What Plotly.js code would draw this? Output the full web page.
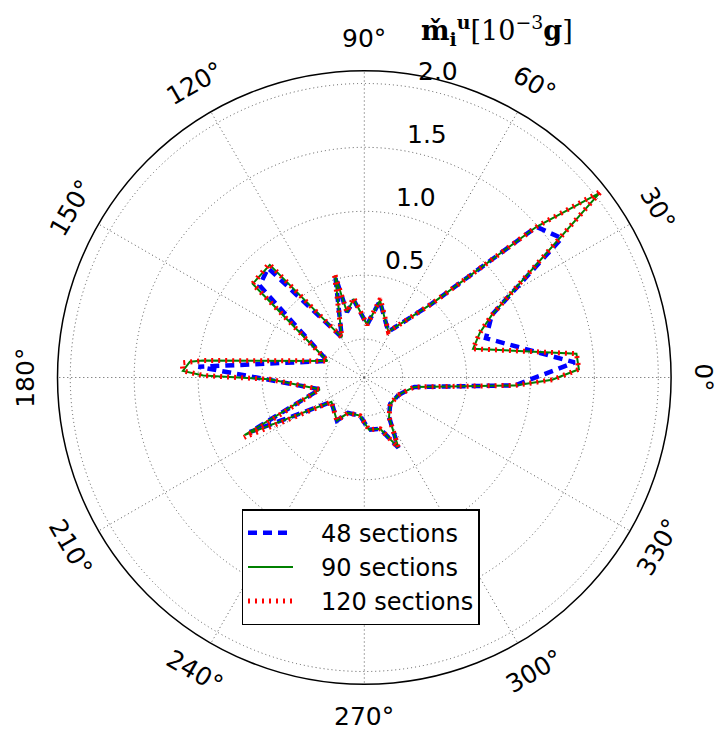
<!DOCTYPE html>
<html><head><meta charset="utf-8">
<script src="https://cdn.plot.ly/plotly-3.0.1.min.js"></script>
<style>html,body{margin:0;padding:0;background:#fff;} #chart{width:717px;height:731px;}</style>
</head><body><div id="chart"></div>
<script>
// ---- data (theta in degrees, r in 10^-3 g) ----
const seriesNames = ['48 sections', '90 sections', '120 sections'];

const theta48 = [333.0, 346.1, 349.3, 357.0, 4.1, 17.9, 26.1, 35.2, 41.2, 47.6, 62.3, 78.5, 87.0, 97.7, 104.8, 106.0, 119.3, 131.3, 138.7, 155.8, 176.3, 194.9, 205.5, 216.6, 237.6, 245.3, 263.6, 275.1, 287.1, 295.9, 302.0, 314.3];
const r48     = [0.00, 0.07, 0.10, 0.88, 1.35, 0.70, 0.81, 1.59, 1.49, 0.48, 0.105, 0.31, 0.113, 0.31, 0.23, 0.52, 0.06, 0.84, 0.79, 0.016, 1.00, 0.06, 0.69, 0.02, 0.10, 0.005, 0.0, 0.11, 0.12, 0.31, 0.065, -0.01];

const theta90 = [333.0, 346.1, 349.3, 357.0, 359.3, 2.2, 6.4, 14.8, 21.2, 26.1, 38.1, 41.2, 47.6, 62.3, 78.5, 87.0, 97.7, 104.8, 106.0, 119.3, 130.0, 140.0, 155.8, 174.0, 174.8, 177.9, 179.3, 181.1, 194.9, 205.7, 216.6, 237.6, 245.3, 263.6, 275.1, 287.1, 295.9, 302.0, 314.3];
const r90     = [0.00, 0.07, 0.10, 0.88, 1.17, 1.38, 1.37, 0.58, 0.67, 0.81, 2.04, 1.49, 0.48, 0.105, 0.315, 0.113, 0.32, 0.23, 0.53, 0.06, 0.85, 0.84, 0.016, 0.97, 1.07, 1.12, 0.96, 0.44, 0.06, 0.74, 0.02, 0.10, 0.005, 0.0, 0.11, 0.12, 0.31, 0.065, -0.01];

const theta120 = [333.0, 346.1, 349.3, 357.0, 359.3, 2.2, 6.4, 14.8, 21.2, 26.1, 38.2, 41.2, 47.6, 62.3, 78.5, 87.0, 97.7, 104.8, 106.0, 119.3, 130.0, 140.0, 155.8, 174.0, 175.4, 177.9, 179.3, 181.1, 194.9, 206.5, 216.6, 237.6, 245.3, 263.6, 275.1, 287.1, 295.9, 302.0, 314.3];
const r120     = [0.00, 0.07, 0.10, 0.88, 1.17, 1.38, 1.37, 0.58, 0.67, 0.81, 2.06, 1.49, 0.48, 0.105, 0.33, 0.113, 0.33, 0.23, 0.55, 0.06, 0.86, 0.84, 0.016, 0.97, 1.13, 1.12, 0.96, 0.44, 0.06, 0.75, 0.02, 0.10, 0.005, 0.0, 0.11, 0.12, 0.31, 0.065, -0.01];

const angleTicks = [0, 30, 60, 90, 120, 150, 180, 210, 240, 270, 300, 330];
const radialTicks = [0.5, 1.0, 1.5, 2.0];
const radialTickText = ['0.5', '1.0', '1.5', '2.0'];
const rRange = [-0.3, 2.1];

// ---- layout geometry ----
const W = 717, H = 731, CX = 364.3, CY = 377.5, R = 306.8;
const pxPerUnit = R / (rRange[1] - rRange[0]);
const FONT = 'DejaVu Sans, sans-serif';
const PAD = '\u00a0\u00a0\u00a0';

function closeLoop(a) { return a.concat([a[0]]); }
function toPaper(x, y) { return [x / W, 1 - y / H]; }
function rad(d) { return d * Math.PI / 180; }

const traces = [
  {type: 'scatterpolar', mode: 'lines', name: PAD + seriesNames[0], theta: closeLoop(theta48), r: closeLoop(r48),
   line: {color: '#0000ff', width: 4.5, dash: '9px,6px'}},
  {type: 'scatterpolar', mode: 'lines', name: PAD + seriesNames[1], theta: closeLoop(theta90), r: closeLoop(r90),
   line: {color: '#008000', width: 2}},
  {type: 'scatterpolar', mode: 'lines', name: PAD + seriesNames[2], theta: closeLoop(theta120), r: closeLoop(r120),
   line: {color: '#ff0000', width: 5, dash: '2px,5px'}}
];

const annotations = [];
// angular tick labels, rotated tangentially
angleTicks.forEach(a => {
  const lr = 339;
  const x = CX + lr * Math.cos(rad(a)), y = CY - lr * Math.sin(rad(a));
  let rot = a - 90; if (rot > 90) rot -= 180;
  const p = toPaper(x, y);
  annotations.push({xref: 'paper', yref: 'paper', x: p[0], y: p[1], xanchor: 'center', yanchor: 'middle',
    text: a + '°', showarrow: false, textangle: -rot, font: {family: FONT, size: 25, color: 'black'}});
});
// radial tick labels
radialTicks.forEach((v, i) => {
  const d = (v - rRange[0]) * pxPerUnit;
  const x = CX + d * Math.cos(rad(80)) + 23, y = CY - d * Math.sin(rad(80)) - 16.5;
  const p = toPaper(x, y);
  annotations.push({xref: 'paper', yref: 'paper', x: p[0], y: p[1], xanchor: 'center', yanchor: 'middle',
    text: radialTickText[i], showarrow: false, font: {family: FONT, size: 25, color: 'black'}});
});
// radial quantity label
{
  const p = toPaper(497, 30);
  annotations.push({xref: 'paper', yref: 'paper', x: p[0], y: p[1], xanchor: 'center', yanchor: 'middle',
    text: '<b>m̌</b><sub><b>i</b></sub><sup><b>u</b></sup>[10<sup>−3</sup><b>g</b>]', showarrow: false,
    font: {family: 'DejaVu Serif, serif', size: 27, color: 'black'}});
}

const grid = {gridcolor: '#555555', gridwidth: 1, griddash: '1px,3px'};
const layout = {
  width: W, height: H, margin: {l: 0, r: 0, t: 0, b: 0},
  paper_bgcolor: 'white', plot_bgcolor: 'white',
  showlegend: true,
  legend: {x: 241.7 / W, y: 1 - 509.3 / H, xanchor: 'left', yanchor: 'top', bgcolor: 'white',
    bordercolor: 'black', borderwidth: 1.3, font: {family: FONT, size: 24, color: 'black'}, itemwidth: 45},
  polar: {
    domain: {x: [(CX - R) / W, (CX + R) / W], y: [(H - CY - R) / H, (H - CY + R) / H]},
    bgcolor: 'white',
    radialaxis: Object.assign({range: rRange, autorange: false, tickmode: 'array', tickvals: [0, 0.5, 1, 1.5, 2],
      showticklabels: false, ticks: '', showline: false}, grid),
    angularaxis: Object.assign({tickmode: 'linear', tick0: 0, dtick: 30, showticklabels: false, ticks: '',
      showline: true, linecolor: 'black', linewidth: 1.5, direction: 'counterclockwise', rotation: 0}, grid)
  },
  annotations: annotations
};

Plotly.newPlot('chart', traces, layout, {displayModeBar: false, staticPlot: true});
</script></body></html>
